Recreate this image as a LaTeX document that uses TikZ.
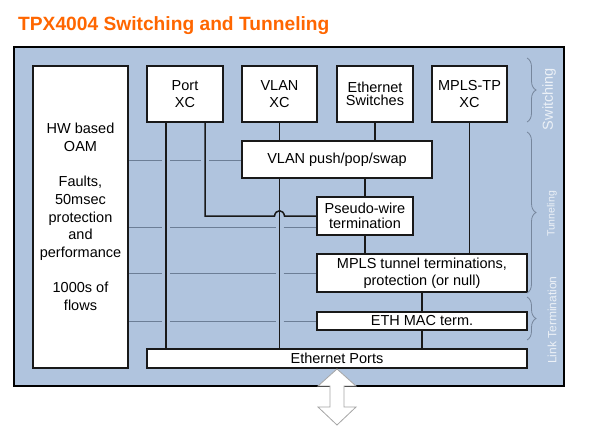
\documentclass[tikz,border=0pt]{standalone}
\usepackage{fontspec}
\setmainfont{Liberation Sans}
\usetikzlibrary{calc,decorations.pathreplacing}
\definecolor{panelblue}{RGB}{176,196,222}
\definecolor{titleorange}{RGB}{255,102,0}
\definecolor{guide}{RGB}{108,126,150}
\definecolor{bracegray}{RGB}{118,134,156}
\definecolor{sidetext}{RGB}{236,241,247}
\definecolor{arrowgray}{RGB}{165,165,165}
\begin{document}
\begin{tikzpicture}[x=1pt,y=-1pt,
  box/.style={draw=black!90, line width=1.2pt, fill=white, inner sep=0pt, align=center, font=\fontsize{14.5}{17.5}\selectfont},
  link/.style={line width=1.5pt, draw=black!90},
  guideline/.style={line width=1pt, draw=guide},
  sidebrace/.style={decorate, decoration={brace, amplitude=9pt}, draw=bracegray, line width=0.8pt},
  sidelabel/.style={rotate=90, text=sidetext, inner sep=0pt},
]
\useasboundingbox (0,0) rectangle (594,436);
\node[anchor=base west, text=titleorange, inner sep=0pt, font=\fontsize{19.2}{22}\selectfont\bfseries] (title) at (18,31) {TPX4004 Switching and Tunneling};
\draw[line width=2.5pt, fill=panelblue] (14,47) rectangle (564,386);

% guide lines
\draw[guideline] (128,160) -- (162,160) (170,160) -- (201,160) (209,160) -- (242,160);
\draw[guideline] (128,227) -- (162,227) (170,227) -- (275.5,227) (283.5,227) -- (317,227);
\draw[guideline] (128,273) -- (162,273) (170,273) -- (275.5,273) (283.5,273) -- (317,273);
\draw[guideline] (128,321) -- (162,321) (170,321) -- (275.5,321) (283.5,321) -- (317,321);

% boxes
\node[box, minimum width=95, minimum height=302, font=\fontsize{14.5}{17.7}\selectfont] (hw) at (80.5,217)
  {HW based\\OAM\\[17.7pt]Faults,\\50msec\\protection\\and\\performance\\[17.7pt]1000s of\\flows};
\node[box, minimum width=76, minimum height=56] (port) at (185,94) {Port\\XC};
\node[box, minimum width=75, minimum height=56] (vlanxc) at (279.5,94) {VLAN\\XC};
\node[box, minimum width=76, minimum height=56] (ethsw) at (375,94) {Ethernet\\[-4.5pt]Switches};
\node[box, minimum width=75, minimum height=56] (mplsxc) at (469.5,94) {MPLS-TP\\XC};
\node[box, minimum width=190, minimum height=37] (vpush) at (337,159.5) {VLAN push/pop/swap};
\node[box, minimum width=96, minimum height=38] (pw) at (365,216) {Pseudo-wire\\[-2.5pt]termination};
\node[box, minimum width=210, minimum height=38] (mplst) at (422,273) {MPLS tunnel terminations,\\protection (or null)};
\node[box, minimum width=210, minimum height=18] (ethmac) at (422,321) {ETH MAC term.};
\node[box, minimum width=380, minimum height=19] (ports) at (337,358.5) {Ethernet Ports};

% connectors
\draw[link] ([xshift=-19pt]port.south) -- ([xshift=-19pt]port.south |- ports.north);
\coordinate (hopL) at ($(vlanxc.south |- pw.west)+(-5,0)$);
\coordinate (hopR) at ($(vlanxc.south |- pw.west)+(5,0)$);
\draw[link] ([xshift=20pt]port.south) |- (hopL) .. controls ($(hopL)+(1,-7)$) and ($(hopR)+(-1,-7)$) .. (hopR) -- (pw.west);
\draw[link] (vlanxc.south) -- (vlanxc.south |- vpush.north);
\draw[link] (vlanxc.south |- vpush.south) -- (vlanxc.south |- ports.north);
\draw[link] (ethsw.south) -- (ethsw.south |- vpush.north);
\draw[link] (pw.north) -- (pw.north |- vpush.south);
\draw[link] (mplsxc.south) -- (mplsxc.south |- mplst.north);
\draw[link] (pw.south) -- (pw.south |- mplst.north);
\draw[link] (mplst.south) -- (ethmac.north);
\draw[link] (ethmac.south) -- (ethmac.south |- ports.north);

% side braces and labels
\draw[sidebrace] (527,58) -- (527,122);
\draw[sidebrace] (527,132) -- (527,293);
\draw[sidebrace] (527,297) -- (527,340);
\node[sidelabel, font=\fontsize{14.5}{16}\selectfont] (lsw) at (549,99) {Switching};
\node[sidelabel, font=\fontsize{10.5}{12}\selectfont] (ltu) at (552,214) {Tunneling};
\node[sidelabel, font=\fontsize{12}{14}\selectfont] (llt) at (552,320) {Link Termination};

% bidirectional hollow arrow
\draw[draw=arrowgray, fill=white, line width=0.8pt, line join=miter]
  (337,369) -- (356,386) -- (344,386) -- (344,407) -- (356,407) -- (337,425)
  -- (318,407) -- (330,407) -- (330,386) -- (318,386) -- cycle;
\end{tikzpicture}
\end{document}
